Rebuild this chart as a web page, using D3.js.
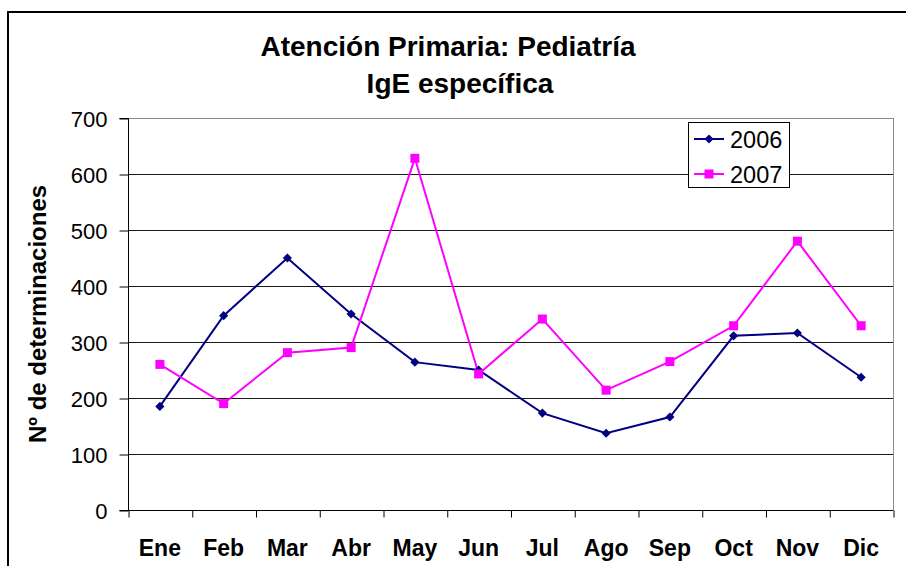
<!DOCTYPE html>
<html>
<head>
<meta charset="utf-8">
<script src="https://cdn.jsdelivr.net/npm/d3@7"></script>
<style>
  html, body { margin: 0; padding: 0; background: #fff; }
  svg { display: block; font-family: Arial, "Liberation Sans", sans-serif; }
</style>
</head>
<body>
<svg id="chart" width="906" height="566"></svg>
<script>
const titleLines = ["Atención Primaria: Pediatría", "IgE específica"];
const yAxisTitle = "Nº de determinaciones";
const months = ["Ene","Feb","Mar","Abr","May","Jun","Jul","Ago","Sep","Oct","Nov","Dic"];
const seriesNames = ["2006", "2007"];
const values2006 = [185, 347, 450, 350, 264, 250, 173, 137, 166, 311, 316, 237];
const values2007 = [260, 190, 281, 290, 628, 243, 341, 214, 265, 329, 480, 329];
const yTicks = [0, 100, 200, 300, 400, 500, 600, 700];

const svg = d3.select("#chart");
const plot = { left: 128, right: 893, top: 118, bottom: 510 };

// outer chart border
svg.append("rect")
  .attr("x", 8).attr("y", 12).attr("width", 920).attr("height", 600)
  .attr("fill", "#fff").attr("stroke", "#000").attr("stroke-width", 2);

// titles
svg.append("text").attr("x", 448).attr("y", 56)
  .attr("text-anchor", "middle").attr("font-size", 28).attr("font-weight", "bold")
  .text(titleLines[0]);
svg.append("text").attr("x", 460).attr("y", 93)
  .attr("text-anchor", "middle").attr("font-size", 28).attr("font-weight", "bold")
  .text(titleLines[1]);

const x = d3.scaleBand().domain(months).range([plot.left, plot.right]).padding(0);
const xEdges = d3.scaleLinear().domain([0, months.length]).range([plot.left, plot.right]);
const y = d3.scaleLinear().domain([0, 700]).range([plot.bottom, plot.top]);

// gridlines
svg.append("g").selectAll("line").data(yTicks.filter(d => d > 0)).join("line")
  .attr("x1", plot.left).attr("x2", plot.right)
  .attr("y1", d => y(d) + 0.5).attr("y2", d => y(d) + 0.5)
  .attr("stroke", d => d === 700 ? "#8c8c8c" : "#1a1a1a").attr("stroke-width", 1);
// right plot border
svg.append("line")
  .attr("x1", plot.right + 0.5).attr("x2", plot.right + 0.5)
  .attr("y1", plot.top).attr("y2", plot.bottom)
  .attr("stroke", "#8c8c8c").attr("stroke-width", 1);

// y axis
const yAxis = d3.axisLeft(y).tickValues(yTicks).tickSize(9).tickPadding(12).tickFormat(d3.format("d"));
const gy = svg.append("g").attr("transform", `translate(${plot.left + 0.5},0.5)`).call(yAxis);
gy.select(".domain").attr("stroke", "#000").attr("d", `M-9,${plot.top}H0V${plot.bottom}H-9`);
gy.selectAll(".tick line").attr("stroke", "#000");
gy.selectAll(".tick text").attr("font-size", 22).attr("font-family", "Arial, 'Liberation Sans', sans-serif").attr("fill", "#000").attr("dy", "0.35em");

// x axis: boundary ticks
const xTickAxis = d3.axisBottom(xEdges).tickValues(d3.range(0, months.length + 1)).tickSize(7).tickFormat("");
const gx = svg.append("g").attr("transform", `translate(0.5,${plot.bottom + 0.5})`).call(xTickAxis);
gx.select(".domain").attr("stroke", "#000").attr("d", `M${plot.left},0H${plot.right}`);
gx.selectAll(".tick line").attr("stroke", "#000");

// x axis labels
const xLabelAxis = d3.axisBottom(x).tickSize(0).tickPadding(30);
const gxl = svg.append("g").attr("transform", `translate(0,${plot.bottom})`).call(xLabelAxis);
gxl.select(".domain").remove();
gxl.selectAll(".tick text").attr("font-size", 23).attr("font-weight", "bold")
  .attr("font-family", "Arial, 'Liberation Sans', sans-serif").attr("fill", "#000");

// y title
svg.append("text")
  .attr("transform", `translate(46,314) rotate(-90)`)
  .attr("text-anchor", "middle").attr("font-size", 24).attr("font-weight", "bold")
  .text(yAxisTitle);

// lines
const cx = d => x(d) + x.bandwidth() / 2;
const line = d3.line().x(d => cx(d.m)).y(d => y(d.v));
const data2006 = months.map((m, i) => ({ m, v: values2006[i] }));
const data2007 = months.map((m, i) => ({ m, v: values2007[i] }));
const colors = ["#000080", "#ff00ff"];

svg.append("path").datum(data2006).attr("d", line)
  .attr("fill", "none").attr("stroke", colors[0]).attr("stroke-width", 2);
svg.append("path").datum(data2007).attr("d", line)
  .attr("fill", "none").attr("stroke", colors[1]).attr("stroke-width", 2);

const diamond = d3.symbol().type(d3.symbolSquare).size(42);
svg.append("g").selectAll("path").data(data2006).join("path")
  .attr("d", diamond)
  .attr("transform", d => `translate(${cx(d.m)},${y(d.v)}) rotate(45)`)
  .attr("fill", colors[0]);
svg.append("g").selectAll("rect").data(data2007).join("rect")
  .attr("x", d => cx(d.m) - 4.5).attr("y", d => y(d.v) - 4.5)
  .attr("width", 9).attr("height", 9).attr("fill", colors[1]);

// legend
const lg = svg.append("g");
lg.append("rect").attr("x", 688.5).attr("y", 122.5).attr("width", 101).attr("height", 65)
  .attr("fill", "#fff").attr("stroke", "#000").attr("stroke-width", 1);
const legRows = [139, 174];
seriesNames.forEach((name, i) => {
  const ly = legRows[i];
  lg.append("line").attr("x1", 694).attr("x2", 724).attr("y1", ly).attr("y2", ly)
    .attr("stroke", colors[i]).attr("stroke-width", 2);
  if (i === 0) {
    lg.append("path").attr("d", diamond).attr("transform", `translate(709,${ly}) rotate(45)`).attr("fill", colors[0]);
  } else {
    lg.append("rect").attr("x", 704.5).attr("y", ly - 4.5).attr("width", 9).attr("height", 9).attr("fill", colors[1]);
  }
  lg.append("text").attr("x", 730).attr("y", ly + 8.5).attr("font-size", 23.5).attr("fill", "#000").text(name);
});
</script>
</body>
</html>
